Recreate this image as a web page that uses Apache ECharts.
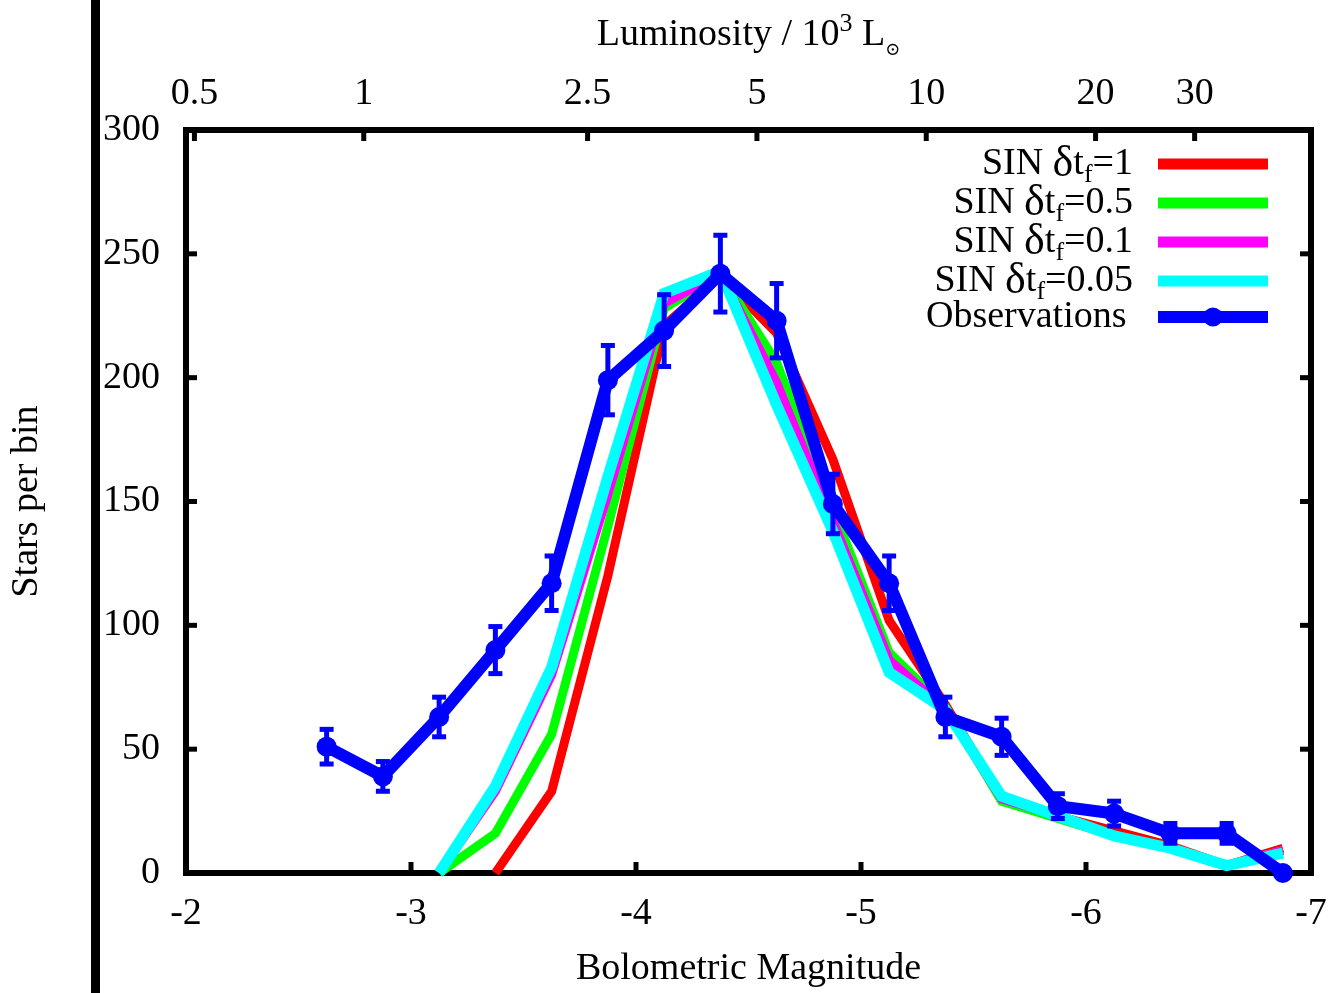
<!DOCTYPE html>
<html>
<head>
<meta charset="utf-8">
<script src="https://cdn.jsdelivr.net/npm/echarts@6/dist/echarts.min.js"></script>
<style>html,body{margin:0;padding:0;background:#fff;}#c{width:1338px;height:993px;}</style>
</head>
<body>
<div id="c"></div>
<script>
// ---- data ----
const obsMag = [-2.625,-2.875,-3.125,-3.375,-3.625,-3.875,-4.125,-4.375,-4.625,-4.875,-5.125,-5.375,-5.625,-5.875,-6.125,-6.375,-6.625,-6.875];
const obsCount = [51,39,63,90,117,199,219,242,223,149,117,63,55,27,24,16,16,0];
const obsErr = [7,6,8,9.5,11,14,14.5,15.5,15,12,11,8,7.5,5,5,4,4,0];
const modelMag = [-3.125,-3.375,-3.625,-3.875,-4.125,-4.375,-4.625,-4.875,-5.125,-5.375,-5.625,-5.875,-6.125,-6.375,-6.625,-6.875];
const sin1   = [null,0,33,120,221,241,218,167,102,68,30,23,17,11,3,10];
const sin05  = [0,16,56,140,228,242,206,147,89,67,29,22,15,10,3,9];
const sin01  = [0,33,80,153,230,242,198,142,86,66,30,23,15,10,3,9];
const sin005 = [0,35,83,160,234,243,189,138,81,66,31,23,15,10,3,8];
const modelNames = ['SIN δt_f=1','SIN δt_f=0.5','SIN δt_f=0.1','SIN δt_f=0.05'];
const obsName = 'Observations';
const magTicks = [-2,-3,-4,-5,-6,-7];
const lumTicks = [0.5,1,2.5,5,10,20,30];
const lumLabels = ['0.5','1','2.5','5','10','20','30'];
const yTicks = [0,50,100,150,200,250,300];

// luminosity (10^3 Lsun) -> bolometric magnitude
const lumToMag = L => -2.79 - 2.5*Math.log10(L);
const lumMags = lumTicks.map(lumToMag);

const FONT = 'Liberation Serif';
const FS = 38;
const X_MIN = -7, X_MAX = -2, Y_MIN = 0, Y_MAX = 300;
const zip = (xs, ys) => xs.map((x,i) => [x, ys[i]]);

const chart = echarts.init(document.getElementById('c'), null, {renderer:'canvas'});
const modelColors = ['#ff0000','#00ff00','#ff00ff','#00ffff'];
const modelWidths = [9,9,9,11];
const modelData = [sin1, sin05, sin01, sin005];

const series = modelData.map((d,i) => ({
  name: modelNames[i], type:'line', data: zip(modelMag, d),
  symbol:'none', color: modelColors[i],
  itemStyle:{color: modelColors[i]},
  lineStyle:{width: modelWidths[i], color: modelColors[i], join:'miter'},
  z: 2+i, animation:false, connectNulls:false
}));
series.push({
  name: obsName, type:'line', data: zip(obsMag, obsCount),
  symbol:'circle', symbolSize:20, showAllSymbol:true, color:'#0000ff',
  itemStyle:{color:'#0000ff'},
  lineStyle:{width:12, color:'#0000ff'}, z:10, animation:false
});
series.push({
  name:'err', type:'custom', z:11, animation:false,
  data: obsMag.map((m,i) => [m, obsCount[i], obsErr[i]]),
  renderItem: (params, api) => {
    const x = api.value(0), y = api.value(1), e = api.value(2);
    if (!e) return null;
    const t = api.coord([x, y+e]), b = api.coord([x, y-e]);
    const hw = 7;
    const st = {stroke:'#0000ff', lineWidth:5};
    return {type:'group', children:[
      {type:'line', shape:{x1:t[0],y1:t[1],x2:b[0],y2:b[1]}, style:st},
      {type:'line', shape:{x1:t[0]-hw,y1:t[1],x2:t[0]+hw,y2:t[1]}, style:st},
      {type:'line', shape:{x1:b[0]-hw,y1:b[1],x2:b[0]+hw,y2:b[1]}, style:st}
    ]};
  }
});

// inward tick marks on the frame, placed through the axes' own scales
const TL = 11, tickSt = {stroke:'#000', lineWidth:5};
function tickSeries(name, values, edge) {
  return {
    name, type:'custom', z:20, animation:false, silent:true, clip:false,
    data: values.map(v => [v]),
    renderItem: (params, api) => {
      const v = api.value(0);
      let p, dx = 0, dy = 0;
      if (edge === 'bottom') { p = api.coord([v, Y_MIN]); dy = -TL; }
      else if (edge === 'top') { p = api.coord([v, Y_MAX]); dy = TL; }
      else if (edge === 'left') { p = api.coord([X_MAX, v]); dx = TL; }
      else { p = api.coord([X_MIN, v]); dx = -TL; }
      return {type:'line', shape:{x1:p[0], y1:p[1], x2:p[0]+dx, y2:p[1]+dy}, style:tickSt};
    }
  };
}
series.push(tickSeries('tb', magTicks, 'bottom'));
series.push(tickSeries('tt', lumMags, 'top'));
series.push(tickSeries('tl', yTicks, 'left'));
series.push(tickSeries('tr', yTicks, 'right'));

const legendRich = {
  a:{fontFamily:FONT, fontSize:FS, color:'#000'},
  d:{fontFamily:FONT, fontSize:44, color:'#000'},
  s:{fontFamily:FONT, fontSize:26, color:'#000', padding:[22,0,0,0]}
};
const lineIcon = 'path://M0,0H110V11H0Z';
const noTick = {show:false};
const axLine = {show:true, onZero:false, lineStyle:{color:'#000', width:6, cap:'square'}};

chart.setOption({
  backgroundColor:'#fff',
  animation:false,
  textStyle:{fontFamily:FONT},
  grid:{left:184, right:27, top:130, bottom:119, containLabel:false},
  graphic:[{type:'rect', left:91, top:0, shape:{width:9, height:993}, style:{fill:'#000'}}],
  legend:{
    data:[...modelNames.map(n => ({name:n, icon:lineIcon})), {name:obsName}],
    orient:'vertical', right:64, top:142, padding:0,
    align:'right', itemWidth:110, itemHeight:24, itemGap:-7,
    lineStyle:{width:'inherit'},
    textStyle:{fontFamily:FONT, fontSize:FS, color:'#000', padding:[0,20,0,0], rich:legendRich},
    formatter: n => n.indexOf('δt_f') >= 0 ? '{a|' + n.replace('δt_f','}{d|δ}{a|t}{s|f}{a|') + '}' : '{a|' + n + '}{s| }',
    selectedMode:false
  },
  xAxis:[{
    type:'value', min:X_MIN, max:X_MAX, inverse:true, position:'bottom',
    axisLine:axLine, splitLine:{show:false}, axisTick:noTick,
    axisLabel:{fontFamily:FONT, fontSize:FS, color:'#000', margin:22, customValues: magTicks, formatter: v => String(v)},
    name:'Bolometric Magnitude', nameLocation:'middle', nameGap:77,
    nameTextStyle:{fontFamily:FONT, fontSize:FS, color:'#000'}
  },{
    type:'value', min:X_MIN, max:X_MAX, inverse:true, position:'top',
    axisLine:axLine, splitLine:{show:false}, axisTick:noTick,
    axisLabel:{fontFamily:FONT, fontSize:FS, color:'#000', margin:17, customValues: lumMags,
      formatter: v => { let bi=0; lumMags.forEach((m,i)=>{ if (Math.abs(m-v) < Math.abs(lumMags[bi]-v)) bi=i; }); return lumLabels[bi]; }},
    name:'{a|Luminosity / 10}{p|3}{a| L}{s|⊙}', nameLocation:'middle', nameGap:71,
    nameTextStyle:{fontFamily:FONT, fontSize:FS, color:'#000', rich:{
      a:{fontFamily:FONT, fontSize:FS, color:'#000'},
      p:{fontFamily:FONT, fontSize:26, color:'#000', padding:[0,0,22,0]},
      s:{fontFamily:'DejaVu Serif', fontSize:18, color:'#000', padding:[30,0,0,0]}
    }}
  }],
  yAxis:[{
    type:'value', min:Y_MIN, max:Y_MAX, interval:50, position:'left',
    axisLine:axLine, splitLine:{show:false}, axisTick:noTick,
    axisLabel:{fontFamily:FONT, fontSize:FS, color:'#000', margin:26},
    name:'Stars per bin', nameLocation:'middle', nameGap:140, nameRotate:90,
    nameTextStyle:{fontFamily:FONT, fontSize:FS, color:'#000'}
  },{
    type:'value', min:Y_MIN, max:Y_MAX, interval:50, position:'right',
    axisLine:axLine, splitLine:{show:false}, axisTick:noTick,
    axisLabel:{show:false}
  }],
  series: series
});
</script>
</body>
</html>
